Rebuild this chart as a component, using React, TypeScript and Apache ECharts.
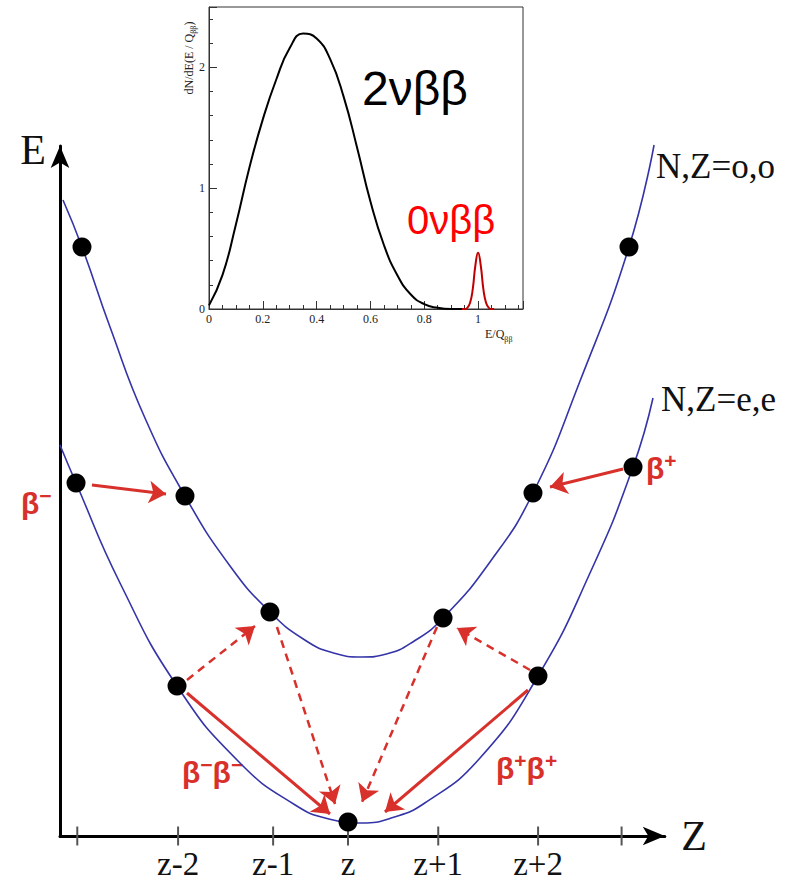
import React, { useEffect, useRef } from 'react';
import * as echarts from 'echarts';

// ---------- main diagram (x in Z units, z at 0; y = energy E) ----------
const zTickPositions = [-2.82, -1.77, -0.78, 0, 0.94, 1.98, 2.85];
const zTickLabels = ['', 'z-2', 'z-1', 'z', 'z+1', 'z+2', ''];

// N,Z = odd,odd mass parabola
const oddOddCurve = [
  [-2.969, 6.36], [-2.771, 5.89], [-2.479, 5.09], [-2.115, 4.18], [-1.698, 3.40],
  [-1.229, 2.70], [-0.813, 2.24], [-0.45, 1.96], [-0.15, 1.83], [0.146, 1.79],
  [0.4, 1.82], [0.69, 1.95], [0.990, 2.18], [1.479, 2.74], [1.927, 3.43], [2.417, 4.55],
  [2.927, 5.89], [3.188, 6.91],
];
// N,Z = even,even mass parabola
const evenEvenCurve = [
  [-3.0, 3.91], [-2.833, 3.53], [-2.375, 2.53], [-1.781, 1.50], [-1.125, 0.73],
  [-0.55, 0.31], [-0.2, 0.17], [0.146, 0.13], [0.45, 0.18], [0.8, 0.33],
  [1.375, 0.78], [1.979, 1.60], [2.521, 2.63], [2.969, 3.69], [3.177, 4.38],
];
const oddOddNuclei = [
  [-2.771, 5.89], [-1.698, 3.40], [-0.813, 2.24], [0.990, 2.18], [1.927, 3.43], [2.927, 5.89],
];
const evenEvenNuclei = [
  [-2.833, 3.53], [-1.781, 1.50], [0, 0.14], [1.979, 1.60], [2.969, 3.69],
];
// arrows [from, to]
const singleBetaArrows = [
  [[-2.667, 3.51], [-1.896, 3.42]],
  [[2.865, 3.67], [2.104, 3.49]],
];
const virtualStepArrows = [
  [[-1.677, 1.56], [-0.969, 2.10]],
  [[-0.740, 2.09], [-0.135, 0.32]],
  [[0.927, 2.09], [0.146, 0.34]],
  [[1.896, 1.66], [1.135, 2.08]],
];
const doubleBetaArrows = [
  [[-1.677, 1.43], [-0.1875, 0.22]],
  [[1.875, 1.46], [0.385, 0.24]],
];

// ---------- inset: summed electron energy spectrum ----------
const spectrumE = [0, 0.05, 0.1, 0.15, 0.2, 0.25, 0.3, 0.35, 0.4, 0.45, 0.5, 0.55, 0.6, 0.65, 0.7, 0.75, 0.8, 0.85, 0.9, 0.95];
const spectrum2nu = [0.03, 0.28, 0.70, 1.17, 1.57, 1.90, 2.16, 2.28, 2.24, 2.07, 1.76, 1.34, 0.89, 0.53, 0.28, 0.12, 0.04, 0.01, 0.0, 0.0];
const peakE = [0.94, 0.95, 0.96, 0.97, 0.98, 0.99, 1.0, 1.01, 1.02, 1.03, 1.04, 1.05, 1.06];
const peak0nu = [0, 0, 0.01, 0.05, 0.16, 0.36, 0.465, 0.36, 0.16, 0.05, 0.01, 0, 0];

const RED = '#d8302b';
const BLUE = '#3434a8';
const SERIF = '"Liberation Serif", "DejaVu Serif", serif';
const SANS = '"Liberation Sans", Arial, "DejaVu Sans", sans-serif';

const redRich = {
  b: { fontSize: 30, fontWeight: 'bold', fill: RED, fontFamily: SANS, lineHeight: 36 },
  s: { fontSize: 21, fontWeight: 'bold', fill: RED, fontFamily: SANS, verticalAlign: 'top', lineHeight: 36 },
};

function redLabel(text: string, x: number, y: number) {
  return {
    type: 'text',
    x,
    y,
    style: { text, rich: redRich, textAlign: 'left', textVerticalAlign: 'middle' },
  };
}

export default function App() {
  const ref = useRef<HTMLDivElement>(null);
  useEffect(() => {
    const chart = echarts.init(ref.current!, undefined, { renderer: 'svg' });

    const arrowItems = [
      ...singleBetaArrows.map((c) => ({ coords: c, lineStyle: { type: 'solid', width: 3 } })),
      ...doubleBetaArrows.map((c) => ({ coords: c, lineStyle: { type: 'solid', width: 3 } })),
      ...virtualStepArrows.map((c) => ({ coords: c, lineStyle: { type: [8, 6], width: 2.5 } })),
    ];

    const xFmt = (v: number) => {
      const r = Math.round(v * 5);
      return Math.abs(v * 5 - r) < 1e-6 ? String(r / 5) : '';
    };
    const yFmt = (v: number) => {
      const r = Math.round(v);
      return Math.abs(v - r) < 1e-6 ? String(r) : '';
    };
    const insetLabel = { fontFamily: SERIF, fontSize: 12, color: '#222' };

    const option: any = {
      animation: false,
      backgroundColor: '#fff',
      grid: [
        { left: 60, top: 146, width: 604.8, height: 690 },
        { left: 209, top: 7, width: 314, height: 302, show: true, borderColor: '#333', borderWidth: 1, backgroundColor: '#fff' },
      ],
      xAxis: [
        {
          gridIndex: 0, type: 'value', min: -3, max: 3.3,
          axisLine: { show: true, onZero: false, symbol: ['none', 'arrow'], symbolSize: [14, 22], lineStyle: { color: '#000', width: 3 } },
          axisTick: { show: false }, axisLabel: { show: false }, splitLine: { show: false },
        },
        {
          gridIndex: 1, type: 'value', position: 'bottom', min: 0, max: 1.167, interval: 0.05,
          axisLine: { show: true, onZero: false, lineStyle: { color: '#333', width: 1 } },
          axisTick: { show: true, inside: true, length: 4, lineStyle: { color: '#333' } },
          axisLabel: { show: false }, splitLine: { show: false },
        },
        {
          gridIndex: 1, type: 'value', position: 'bottom', min: 0, max: 1.167, interval: 0.2,
          axisLine: { show: false, onZero: false },
          axisTick: { show: true, inside: true, length: 8, lineStyle: { color: '#333' } },
          axisLabel: { show: true, formatter: xFmt, margin: 4, ...insetLabel }, splitLine: { show: false },
        },
      ],
      yAxis: [
        {
          gridIndex: 0, type: 'value', min: 0, max: 6.9,
          axisLine: { show: true, onZero: false, symbol: ['none', 'arrow'], symbolSize: [14, 22], lineStyle: { color: '#000', width: 3 } },
          axisTick: { show: false }, axisLabel: { show: false }, splitLine: { show: false },
        },
        {
          gridIndex: 1, type: 'value', position: 'left', min: 0, max: 2.5, interval: 0.2,
          axisLine: { show: true, onZero: false, lineStyle: { color: '#333', width: 1 } },
          axisTick: { show: true, inside: true, length: 4, lineStyle: { color: '#333' } },
          axisLabel: { show: false }, splitLine: { show: false },
        },
        {
          gridIndex: 1, type: 'value', position: 'left', min: 0, max: 2.5, interval: 1,
          axisLine: { show: false, onZero: false },
          axisTick: { show: true, inside: true, length: 8, lineStyle: { color: '#333' } },
          axisLabel: { show: true, formatter: yFmt, margin: 4, ...insetLabel }, splitLine: { show: false },
        },
      ],
      series: [
        {
          type: 'line', name: 'N,Z=o,o', xAxisIndex: 0, yAxisIndex: 0, data: oddOddCurve,
          smooth: 0.5, showSymbol: false, symbol: 'none', clip: false,
          lineStyle: { color: BLUE, width: 1.6 }, z: 2,
        },
        {
          type: 'line', name: 'N,Z=e,e', xAxisIndex: 0, yAxisIndex: 0, data: evenEvenCurve,
          smooth: 0.5, showSymbol: false, symbol: 'none', clip: false,
          lineStyle: { color: BLUE, width: 1.6 }, z: 2,
        },
        {
          type: 'lines', coordinateSystem: 'cartesian2d', xAxisIndex: 0, yAxisIndex: 0,
          symbol: ['none', 'arrow'], symbolSize: 17,
          lineStyle: { color: RED, opacity: 1, curveness: 0 },
          data: arrowItems, z: 3,
        },
        {
          type: 'scatter', name: 'nuclei', xAxisIndex: 0, yAxisIndex: 0,
          data: [...oddOddNuclei, ...evenEvenNuclei], symbolSize: 19,
          itemStyle: { color: '#000', opacity: 1 }, z: 5,
        },
        {
          type: 'scatter', name: 'ticks', xAxisIndex: 0, yAxisIndex: 0,
          data: zTickPositions.map((x, i) => ({ value: [x, 0], name: zTickLabels[i] })),
          symbol: 'rect', symbolSize: [2, 19], itemStyle: { color: '#555', opacity: 1 }, z: 1,
          label: {
            show: true, position: 'bottom', distance: 2, formatter: (p: any) => p.name,
            fontFamily: SERIF, fontSize: 33, color: '#111',
          },
        },
        {
          type: 'line', name: '2nbb', xAxisIndex: 1, yAxisIndex: 1,
          data: spectrumE.map((e, i) => [e, spectrum2nu[i]]),
          smooth: true, showSymbol: false, symbol: 'none',
          lineStyle: { color: '#000', width: 2 },
        },
        {
          type: 'line', name: '0nbb', xAxisIndex: 1, yAxisIndex: 1,
          data: peakE.map((e, i) => [e, peak0nu[i]]),
          smooth: true, showSymbol: false, symbol: 'none',
          lineStyle: { color: '#c00000', width: 2 },
        },
      ],
      graphic: [
        { type: 'text', x: 33, y: 150, style: { text: 'E', font: `42px ${SERIF}`, fill: '#111', textAlign: 'center', textVerticalAlign: 'middle' } },
        { type: 'text', x: 694, y: 836, style: { text: 'Z', font: `42px ${SERIF}`, fill: '#111', textAlign: 'center', textVerticalAlign: 'middle' } },
        { type: 'text', x: 656, y: 166, style: { text: 'N,Z=o,o', font: `35px ${SERIF}`, fill: '#111', textAlign: 'left', textVerticalAlign: 'middle' } },
        { type: 'text', x: 661, y: 399, style: { text: 'N,Z=e,e', font: `35px ${SERIF}`, fill: '#111', textAlign: 'left', textVerticalAlign: 'middle' } },
        { type: 'text', x: 362, y: 88, style: { text: '2νββ', font: `48px ${SANS}`, fill: '#000', textAlign: 'left', textVerticalAlign: 'middle' } },
        { type: 'text', x: 407, y: 220, style: { text: '0νββ', font: `40px ${SANS}`, fill: '#ff0000', textAlign: 'left', textVerticalAlign: 'middle' } },
        redLabel('{b|β}{s|−}', 21, 503),
        redLabel('{b|β}{s|+}', 646, 468),
        redLabel('{b|β}{s|−}{b|β}{s|−}', 182, 772),
        redLabel('{b|β}{s|+}{b|β}{s|+}', 496, 768),
        {
          type: 'text', x: 189, y: 58, rotation: Math.PI / 2,
          style: {
            text: 'dN/dE(E / Q{s|ββ})', textAlign: 'center', textVerticalAlign: 'middle',
            font: `12px ${SERIF}`, fill: '#222',
            rich: { s: { fontSize: 8, fontFamily: SERIF, fill: '#222', verticalAlign: 'bottom', lineHeight: 16 } },
          },
        },
        {
          type: 'text', x: 485, y: 334,
          style: {
            text: 'E/Q{s|ββ}', textAlign: 'left', textVerticalAlign: 'middle',
            font: `12px ${SERIF}`, fill: '#222',
            rich: { s: { fontSize: 8, fontFamily: SERIF, fill: '#222', verticalAlign: 'bottom', lineHeight: 18 } },
          },
        },
      ],
    };

    chart.setOption(option);
    return () => chart.dispose();
  }, []);

  return (
    <div
      ref={ref}
      style={{ position: 'absolute', left: 0, top: 0, width: 812, height: 881, background: '#fff' }}
    />
  );
}
